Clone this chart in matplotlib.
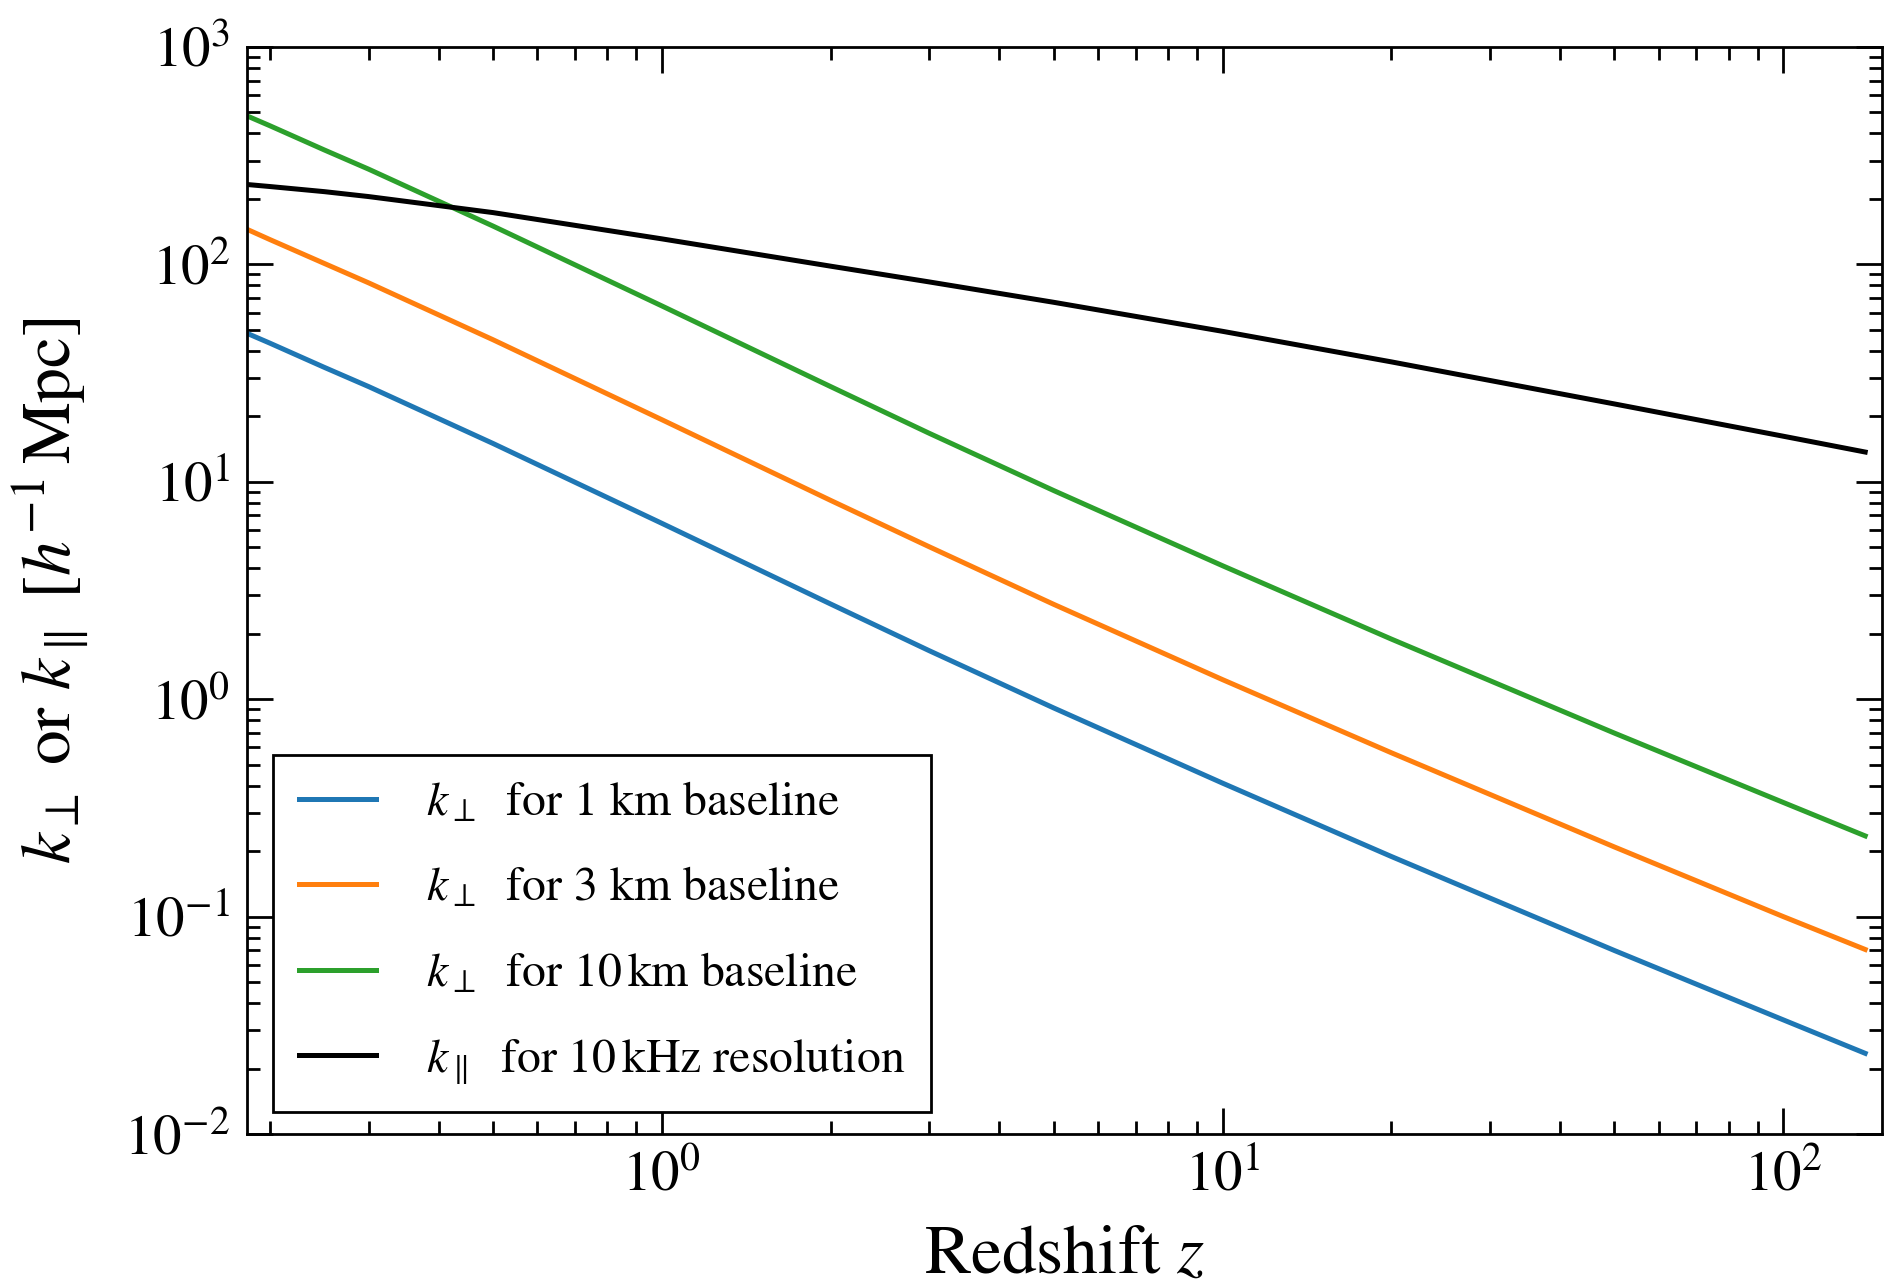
import matplotlib
matplotlib.use("Agg")
import matplotlib.pyplot as plt
from matplotlib.ticker import LogLocator, NullFormatter

plt.rcParams['font.family'] = ['STIXGeneral', 'DejaVu Serif']
plt.rcParams['mathtext.fontset'] = 'stix'

# redshift samples and values
z = [0.182, 0.2, 0.25, 0.3, 0.5, 1, 2, 3, 5, 10, 20, 50, 100, 140]
k_perp_1km = [48.2, 43.4, 33.6, 27.4, 15.0, 6.44, 2.74, 1.67, 0.911, 0.411, 0.189, 0.0698, 0.0335, 0.0235]
k_perp_3km = [145, 130, 101, 82.2, 45.0, 19.3, 8.21, 5.02, 2.73, 1.23, 0.567, 0.209, 0.100, 0.0706]
k_perp_10km = [482, 434, 336, 274, 150, 64.4, 27.4, 16.7, 9.11, 4.11, 1.89, 0.698, 0.335, 0.235]
k_par_10khz = [233, 228, 216, 205, 173, 131, 98.1, 83.0, 66.9, 49.2, 35.6, 22.8, 16.2, 13.7]

labels = [r'$k_\perp$  for 1 km baseline',
          r'$k_\perp$  for 3 km baseline',
          r'$k_\perp$  for 10$\,$km baseline',
          r'$k_\parallel$  for 10$\,$kHz resolution']
colors = ['#1f77b4', '#ff7f0e', '#2ca02c', 'black']

fig = plt.figure(figsize=(9.425, 6.43), dpi=200)
ax = fig.add_axes([0.131, 0.1182, 0.8674, 0.8453])

for ys, lab, c in zip([k_perp_1km, k_perp_3km, k_perp_10km, k_par_10khz], labels, colors):
    ax.plot(z, ys, color=c, lw=1.8, label=lab)

ax.set_xscale('log')
ax.set_yscale('log')
ax.set_xlim(0.182, 150)
ax.set_ylim(1e-2, 1e3)

ax.xaxis.set_minor_locator(LogLocator(base=10, subs=range(2, 10), numticks=20))
ax.yaxis.set_minor_locator(LogLocator(base=10, subs=range(2, 10), numticks=20))
ax.xaxis.set_minor_formatter(NullFormatter())
ax.yaxis.set_minor_formatter(NullFormatter())

ax.tick_params(which='both', direction='in', top=True, right=True, labelsize=20.5, pad=6)
ax.tick_params(which='major', length=9.5, width=1.0)
ax.tick_params(which='minor', length=4.8, width=1.0)
for s in ax.spines.values():
    s.set_linewidth(1.0)

ax.set_xlabel(r'Redshift $z$', fontsize=25, labelpad=8)
ax.set_ylabel(r'$k_\perp$ or $k_\parallel$ $[h^{-1}\,\mathrm{Mpc}]$', fontsize=25, labelpad=12)

leg = ax.legend(loc='lower left', bbox_to_anchor=(0.0159, 0.0202), borderaxespad=0,
                fontsize=17.2, fancybox=False, framealpha=1, edgecolor='black',
                handlelength=1.6, handletextpad=1.05, borderpad=0.55, labelspacing=0.86)
leg.get_frame().set_linewidth(1.0)

fig.savefig('out.png', dpi=200)
